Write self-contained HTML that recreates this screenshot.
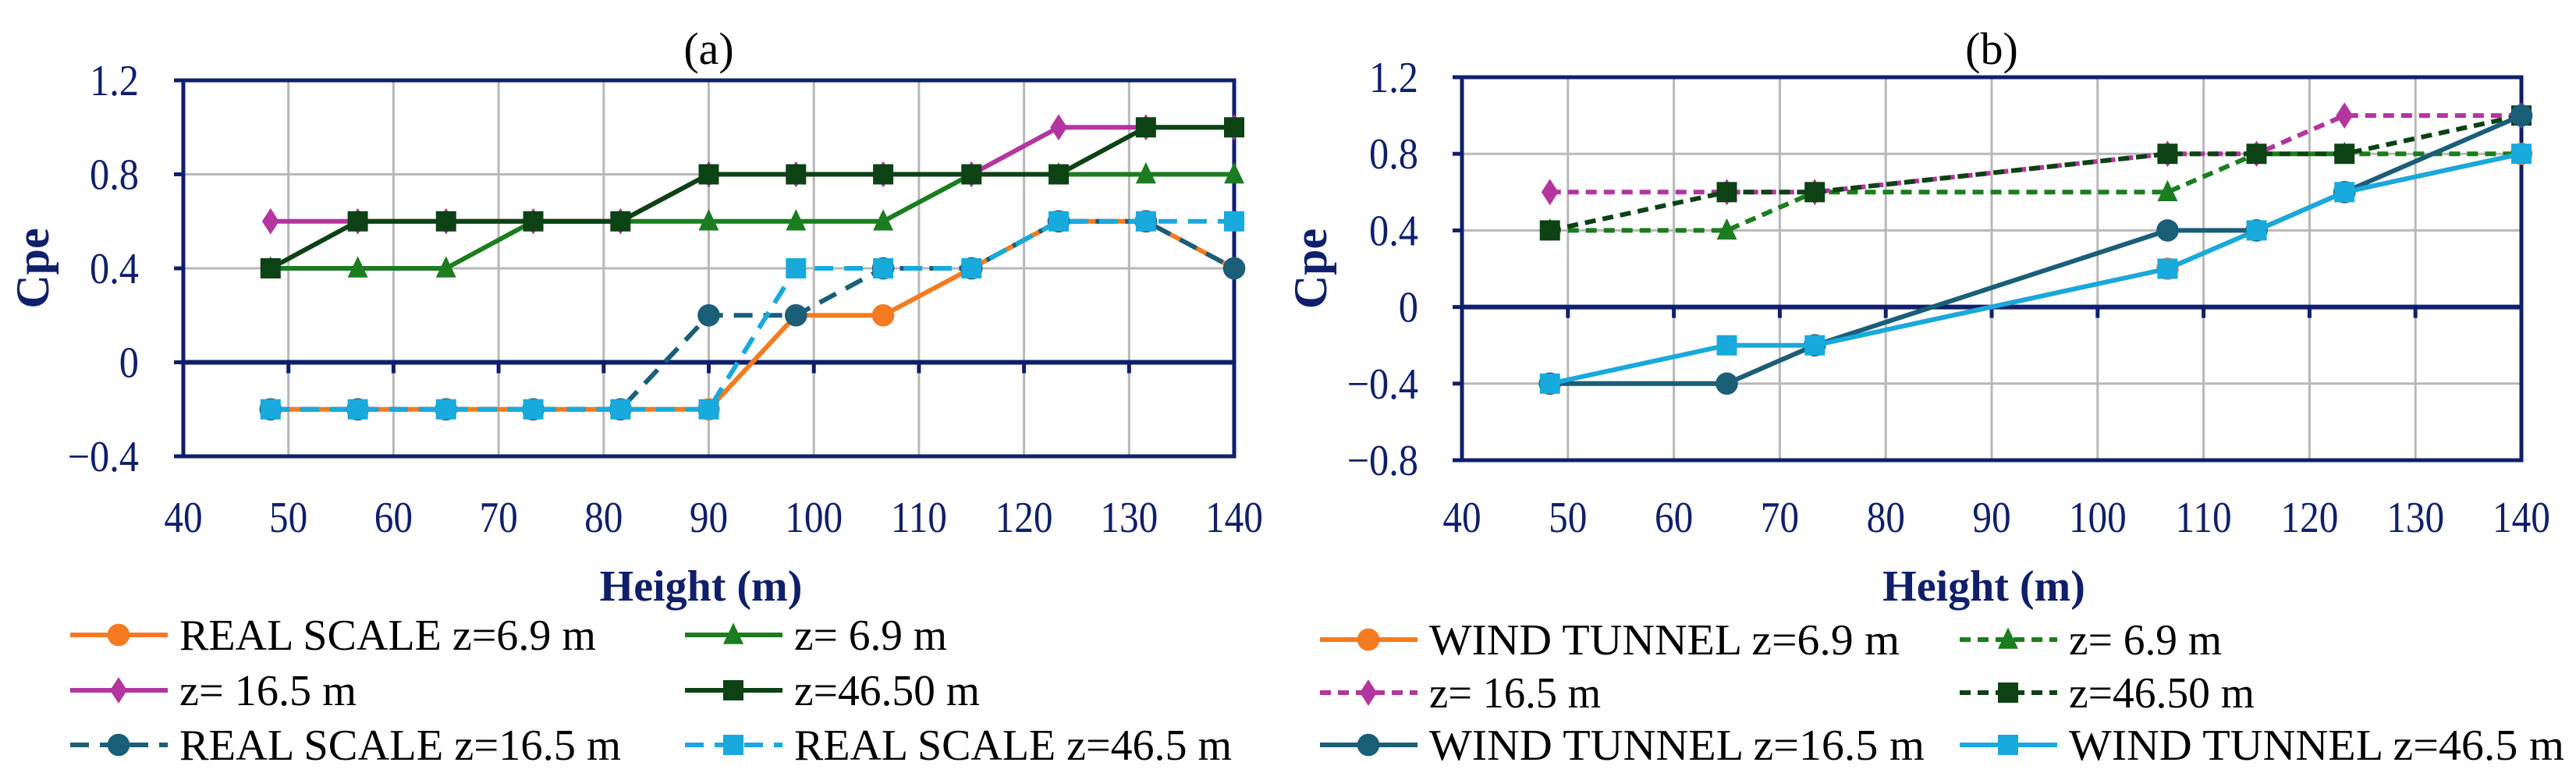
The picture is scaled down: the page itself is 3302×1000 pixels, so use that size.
<!DOCTYPE html>
<html><head><meta charset="utf-8"><style>
html,body{margin:0;padding:0;background:#fff;}
svg{display:block;}
text{font-family:"Liberation Serif",serif;}
</style></head><body>
<svg id="c" width="3302" height="1000" viewBox="0 0 3302 1000" xmlns="http://www.w3.org/2000/svg"></svg>
<script>
const xA = [48.3,56.6,65,73.3,81.6,90,98.3,106.6,115,123.3,131.6,140];
const aRS69 = [-0.2,-0.2,-0.2,-0.2,-0.2,-0.2,0.2,0.2,0.4,0.6,0.6,0.4];
const aZ69 = [0.4,0.4,0.4,0.6,0.6,0.6,0.6,0.6,0.8,0.8,0.8,0.8];
const aZ165 = [0.6,0.6,0.6,0.6,0.6,0.8,0.8,0.8,0.8,1.0,1.0,1.0];
const aZ465 = [0.4,0.6,0.6,0.6,0.6,0.8,0.8,0.8,0.8,0.8,1.0,1.0];
const aRS165 = [-0.2,-0.2,-0.2,-0.2,-0.2,0.2,0.2,0.4,0.4,0.6,0.6,0.4];
const aRS465 = [-0.2,-0.2,-0.2,-0.2,-0.2,-0.2,0.4,0.4,0.4,0.6,0.6,0.6];
const xB = [48.3,65,73.3,106.6,115,123.3,140];
const bWT69 = [-0.4,-0.4,-0.2,0.2,0.4,0.6,0.8];
const bZ69 = [0.4,0.4,0.6,0.6,0.8,0.8,0.8];
const bZ165 = [0.6,0.6,0.6,0.8,0.8,1.0,1.0];
const bZ465 = [0.4,0.6,0.6,0.8,0.8,0.8,1.0];
const bWT165 = [-0.4,-0.4,-0.2,0.4,0.4,0.6,1.0];
const bWT465 = [-0.4,-0.2,-0.2,0.2,0.4,0.6,0.8];
const xTicks = [40,50,60,70,80,90,100,110,120,130,140];
const yTicksA = [1.2,0.8,0.4,0,-0.4];
const yTicksB = [1.2,0.8,0.4,0,-0.4,-0.8];

const NS="http://www.w3.org/2000/svg";
const svg=document.getElementById('c');
function mk(tag,attrs,parent,text){const e=document.createElementNS(NS,tag);for(const k in attrs)e.setAttribute(k,attrs[k]);if(text!==undefined)e.textContent=text;(parent||svg).appendChild(e);return e;}
const NAVY="#0f1f6b";
const C={orange:"#f47b20",green:"#1b7d1f",mag:"#b4359f",dg:"#0c4214",teal:"#1a5e78",cyan:"#18a9dd"};

function marker(g,type,cx,cy,col,s){
  let e;
  if(type==='circle'){e=mk('circle',{cx,cy,r:s*0.55,fill:col},g);}
  else if(type==='square'){e=mk('rect',{x:cx-s/2,y:cy-s/2,width:s,height:s,fill:col},g);}
  else if(type==='tri'){e=mk('polygon',{points:`${cx},${cy-s*0.6} ${cx+s*0.5},${cy+s*0.45} ${cx-s*0.5},${cy+s*0.45}`,fill:col},g);}
  else {e=mk('polygon',{points:`${cx},${cy-s*0.65} ${cx+s*0.42},${cy} ${cx},${cy+s*0.65} ${cx-s*0.42},${cy}`,fill:col},g);}
  
  
}

function chart(cfg){
  const {L,R,T,B,ymax,ymin,yt,series,xs,title,name,yLabX,cpeX}=cfg;
  const g=mk('g',{},svg);
  
  
  const X=v=>L+(v-40)/100*(R-L);
  const Y=v=>T+(ymax-v)/(ymax-ymin)*(B-T);
  const grid=mk('g',{},g);
  
  xTicks.forEach(t=>{ if(t>40&&t<140) mk('line',{x1:X(t),x2:X(t),y1:T,y2:B,stroke:"#b8b8b8","stroke-width":3},grid);});
  yt.forEach(t=>{ if(t!==0) mk('line',{x1:L,x2:R,y1:Y(t),y2:Y(t),stroke:"#b8b8b8","stroke-width":3},grid);});
  const fr=mk('rect',{x:L,y:T,width:R-L,height:B-T,fill:"none",stroke:NAVY,"stroke-width":5},g);
  
  const z=mk('line',{x1:L,x2:R,y1:Y(0),y2:Y(0),stroke:NAVY,"stroke-width":6},g);
  
  xTicks.forEach(t=>{ mk('line',{x1:X(t),x2:X(t),y1:Y(0),y2:Y(0)+14,stroke:NAVY,"stroke-width":5},g);});
  yt.forEach(t=>{ mk('line',{x1:L-12,x2:L,y1:Y(t),y2:Y(t),stroke:NAVY,"stroke-width":5},g);
    const tx=mk('text',{x:yLabX,y:Y(t)+19,"text-anchor":"end","font-size":56,fill:NAVY,transform:`translate(${yLabX},0) scale(0.9,1) translate(${-yLabX},0)`},g,(t<0?"\u2212":"")+Math.abs(t));
    });
  xTicks.forEach(t=>{const tx=mk('text',{x:X(t),y:682,"text-anchor":"middle","font-size":56,fill:NAVY,transform:`translate(${X(t)},0) scale(0.88,1) translate(${-X(t)},0)`},g,String(t));
    });
  const ttl=mk('text',{x:(L+R)/2,y:82,"text-anchor":"middle","font-size":58},g,title);
  
  const xl=mk('text',{x:(L+R)/2-10,y:770,"text-anchor":"middle","font-size":56,"font-weight":"bold",fill:NAVY},g,"Height (m)");
  
  const yl=mk('text',{x:0,y:0,"text-anchor":"middle","font-size":60,"font-weight":"bold",fill:NAVY,transform:`translate(${cpeX},${(T+B)/2}) rotate(-90)`},g,"Cpe");
  
  series.forEach(s=>{
    const sg=mk('g',{},g);
    
    const pts=xs.map((x,i)=>X(x)+','+Y(s.v[i])).join(' ');
    const pl=mk('polyline',{points:pts,fill:"none",stroke:s.c,"stroke-width":6,"stroke-linejoin":"round","stroke-dasharray":s.dash||"none"},sg);
    
    xs.forEach((x,i)=>marker(sg,s.m,X(x),Y(s.v[i]),s.c,26));
  });
  return g;
}

chart({L:235,R:1582,T:103,B:585,ymax:1.2,ymin:-0.4,yt:yTicksA,xs:xA,title:"(a)",name:"chart-a",yLabX:178,cpeX:62,
 series:[
  {id:'rs-6-9',v:aRS69,c:C.orange,m:'circle'},
  {id:'z-6-9',v:aZ69,c:C.green,m:'tri'},
  {id:'z-16-5',v:aZ165,c:C.mag,m:'diamond'},
  {id:'z-46-50',v:aZ465,c:C.dg,m:'square'},
  {id:'rs-16-5',v:aRS165,c:C.teal,m:'circle',dash:"24 14"},
  {id:'rs-46-5',v:aRS465,c:C.cyan,m:'square',dash:"24 14"}]});
chart({L:1874,R:3232,T:99,B:590,ymax:1.2,ymin:-0.8,yt:yTicksB,xs:xB,title:"(b)",name:"chart-b",yLabX:1818,cpeX:1700,
 series:[
  {id:'wt-6-9',v:bWT69,c:C.orange,m:'circle'},
  {id:'z-6-9',v:bZ69,c:C.green,m:'tri',dash:"14 9"},
  {id:'z-16-5',v:bZ165,c:C.mag,m:'diamond',dash:"14 9"},
  {id:'z-46-50',v:bZ465,c:C.dg,m:'square',dash:"14 9"},
  {id:'wt-16-5',v:bWT165,c:C.teal,m:'circle'},
  {id:'wt-46-5',v:bWT465,c:C.cyan,m:'square'}]});

const legA=[
 {x:90,y:814,c:C.orange,m:'circle',t:"REAL SCALE z=6.9 m",w:534},
 {x:878,y:814,c:C.green,m:'tri',t:"z= 6.9 m",w:196},
 {x:90,y:885,c:C.mag,m:'diamond',t:"z= 16.5 m",w:227},
 {x:878,y:885,c:C.dg,m:'square',t:"z=46.50 m",w:238},
 {x:90,y:955,c:C.teal,m:'circle',t:"REAL SCALE z=16.5 m",w:566,dash:"24 14"},
 {x:878,y:955,c:C.cyan,m:'square',t:"REAL SCALE z=46.5 m",w:561,dash:"24 14"}];
const legB=[
 {x:1692,y:820,c:C.orange,m:'circle',t:"WIND TUNNEL z=6.9 m",w:603},
 {x:2512,y:820,c:C.green,m:'tri',t:"z= 6.9 m",w:196,dash:"14 9"},
 {x:1692,y:888,c:C.mag,m:'diamond',t:"z= 16.5 m",w:220,dash:"14 9"},
 {x:2512,y:888,c:C.dg,m:'square',t:"z=46.50 m",w:238,dash:"14 9"},
 {x:1692,y:955,c:C.teal,m:'circle',t:"WIND TUNNEL z=16.5 m",w:635},
 {x:2512,y:955,c:C.cyan,m:'square',t:"WIND TUNNEL z=46.5 m",w:635}];
[legA,legB].forEach((leg,li)=>{
  const lg=mk('g',{},svg);
  
  
  leg.forEach(e=>{
    const eg=mk('g',{},lg);
    
    
    mk('line',{x1:e.x,x2:e.x+125,y1:e.y,y2:e.y,stroke:e.c,"stroke-width":6,"stroke-dasharray":e.dash||"none"},eg);
    marker(eg,e.m,e.x+62,e.y,e.c,26);
    const t=mk('text',{x:e.x+140,y:e.y+19,"font-size":56,textLength:e.w,lengthAdjust:"spacingAndGlyphs"},eg,e.t);
    
    
  });
});
</script>
</body></html>
